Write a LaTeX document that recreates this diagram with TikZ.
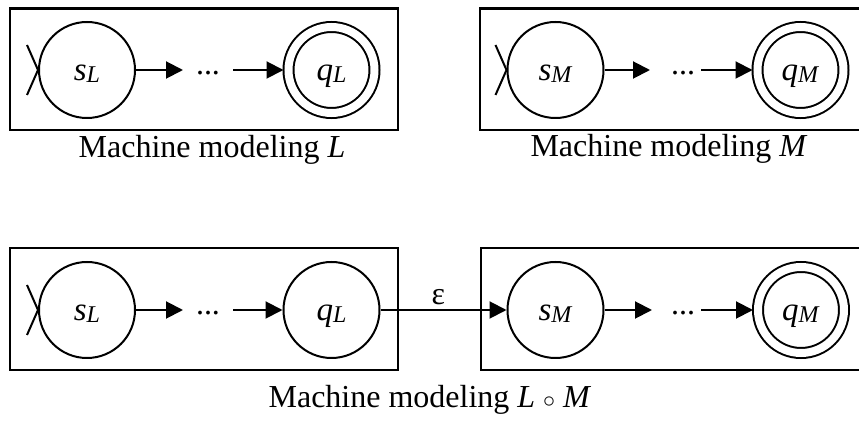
\documentclass[tikz,border=0pt]{standalone}
\usepackage{fontspec}
\setmainfont{Liberation Serif}
\usetikzlibrary{arrows.meta}
\newcommand{\stname}[2]{\textit{#1}\raisebox{-1pt}{\fontsize{12}{13}\selectfont\textit{#2}}}

\begin{document}
\begin{tikzpicture}[x=0.5pt,y=-0.5pt,>={Triangle[length=8.5pt,width=8.5pt]},
  font=\fontsize{16}{19}\selectfont,line width=1pt,
  state/.style={circle,draw,minimum size=48pt,inner sep=0pt,font=\fontsize{16.5}{19}\selectfont,text height=11pt,text depth=0pt},
  final/.style={state,double,double distance=4pt,minimum size=43pt,outer sep=2.5pt},
  dots/.style={inner xsep=6pt,inner ysep=0pt,text height=0.7em,text depth=0.2em},
  frame/.style={line width=1.2pt}]
\useasboundingbox (0,0) rectangle (859,422);
% frames round the machines
\draw[frame] (10,8.5) rectangle (398,130);
\draw[frame] (480,8.5) rectangle (864,130);
\draw[frame] (10,248) rectangle (398,370);
\draw[frame] (481,248) rectangle (864,370);
% machine for L
\node[state] (sL) at (87,70) {\stname{s}{L}};
\node[dots] (dL) at (208,70) {...};
\node[final] (qL) at (331.5,70) {\stname{q}{L}};
\draw[->] (sL) -- (dL);
\draw[->] (dL) -- (qL);
\node[anchor=base] (capL) at (212,158) {Machine modeling \textit{L}};
% machine for M
\node[state] (sM) at (555.5,70) {\stname{s}{M}};
\node[dots] (dM) at (683,70) {...};
\node[final] (qM) at (800.5,70) {\stname{q}{M}};
\draw[->,shorten >=4pt] (sM) -- (dM);
\draw[->,shorten <=-3.5pt] (dM) -- (qM);
\node[anchor=base] (capM) at (669,157) {Machine modeling \textit{M}};
% concatenation
\node[state] (sLc) at (87,310) {\stname{s}{L}};
\node[dots] (dLc) at (208,310) {...};
\node[state] (qLc) at (331.5,310) {\stname{q}{L}};
\node[state] (sMc) at (555.5,310) {\stname{s}{M}};
\node[dots] (dMc) at (683,310) {...};
\node[final] (qMc) at (801,310) {\stname{q}{M}};
\draw[->] (sLc) -- (dLc);
\draw[->] (dLc) -- (qLc);
\draw[->] (qLc) -- node[above,inner sep=2pt,pos=0.46] (eps) {ε} (sMc);
\draw[->,shorten >=3pt] (sMc) -- (dMc);
\draw[->,shorten <=-3.5pt] (dMc) -- (qMc);
\node[anchor=base] (capLM) at (430,408) {Machine modeling \textit{L} {\fontsize{13}{13}\selectfont$\circ$} \textit{M}};
% start marks
\foreach \s in {sL,sM,sLc}
  \draw (\s.west) ++(-11,-25) -- (\s.west) -- ++(-11,25);
\end{tikzpicture}
\end{document}
